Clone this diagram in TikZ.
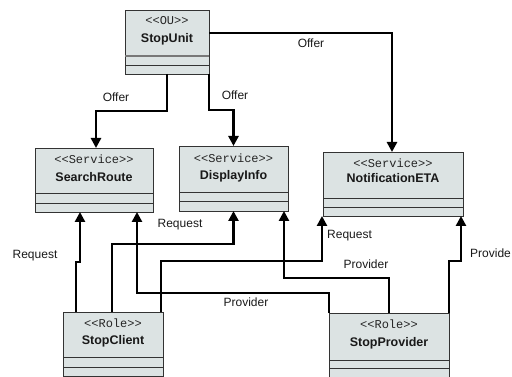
\documentclass[tikz,border=0pt]{standalone}
\usepackage{fontspec}
\setmainfont{Liberation Sans}
\newfontfamily\monof{Liberation Mono}
\usetikzlibrary{arrows.meta}
\definecolor{boxfill}{RGB}{220,227,227}
\definecolor{sepgray}{RGB}{120,120,120}
\tikzset{
  umlbox/.style={draw=black!80, fill=boxfill, line width=0.8pt, inner sep=0pt, outer sep=0pt},
  stereo/.style={font=\monof\fontsize{12}{14}\selectfont, inner sep=0pt, text=black!85},
  cname/.style={font=\bfseries\fontsize{12.5}{14}\selectfont, inner sep=0pt, text=black!90},
  lbl/.style={font=\fontsize{12}{14}\selectfont, inner sep=0pt, text=black!90},
  conn/.style={line width=2.8pt, -{Triangle[width=10pt,length=10pt]}, line join=miter},
  sepA/.style={draw=sepgray, line width=1.3pt},
  sepB/.style={draw=black!80, line width=0.8pt}
}
\begin{document}
\begin{tikzpicture}[x=1pt,y=-1pt]
\useasboundingbox (0,0) rectangle (512,377);
% boxes
\node[umlbox, minimum width=84pt, minimum height=64pt] (su) at (167,42) {};
\node[umlbox, minimum width=118pt, minimum height=64pt] (sr) at (94,180) {};
\node[umlbox, minimum width=109pt, minimum height=65pt] (di) at (233.5,178.5) {};
\node[umlbox, minimum width=140pt, minimum height=64pt] (ne) at (393,184) {};
\node[umlbox, minimum width=100pt, minimum height=64pt] (sc) at (113,344) {};
\node[umlbox, minimum width=120pt, minimum height=64pt] (sp) at (389,345) {};
% separators
\draw[sepA] (su.west |- 0,56) -- (su.east |- 0,56);
\draw[sepB] (su.west |- 0,65) -- (su.east |- 0,65);
\draw[sepB] (sr.west |- 0,193) -- (sr.east |- 0,193);
\draw[sepB] (sr.west |- 0,203) -- (sr.east |- 0,203);
\draw[sepB] (di.west |- 0,192) -- (di.east |- 0,192);
\draw[sepB] (di.west |- 0,201) -- (di.east |- 0,201);
\draw[sepB] (ne.west |- 0,198) -- (ne.east |- 0,198);
\draw[sepB] (ne.west |- 0,207) -- (ne.east |- 0,207);
\draw[sepB] (sc.west |- 0,357) -- (sc.east |- 0,357);
\draw[sepB] (sc.west |- 0,367) -- (sc.east |- 0,367);
\draw[sepB] (sp.west |- 0,360) -- (sp.east |- 0,360);
\draw[sepB] (sp.west |- 0,368) -- (sp.east |- 0,368);
% texts
\node[stereo] (suS) at (167,21) {<<OU>>};
\node[cname] (suN) at (167,39) {StopUnit};
\node[stereo] (srS) at (94,159) {<<Service>>};
\node[cname] (srN) at (94,177) {SearchRoute};
\node[stereo] (diS) at (233.5,158) {<<Service>>};
\node[cname] (diN) at (233.5,176) {DisplayInfo};
\node[stereo] (neS) at (393,163) {<<Service>>};
\node[cname] (neN) at (393,178) {NotificationETA};
\node[stereo] (scS) at (113,323) {<<Role>>};
\node[cname] (scN) at (113,341) {StopClient};
\node[stereo] (spS) at (389,324) {<<Role>>};
\node[cname] (spN) at (389,343) {StopProvider};
% connectors
\draw[conn] ([xshift=42pt]su.south west) -- ++(0,37) -| ([xshift=61pt]sr.north west);
\draw[conn] (su.south east) -- ++(0,36) -| (di.north);
\draw[conn] ([yshift=9pt]su.east) -| ([xshift=-1pt]ne.north);
\draw[conn] ([xshift=13pt]sc.north west) -- ++(0,-50) -- ++(4,0) -- ([xshift=45pt]sr.south west);
\draw[conn] ([xshift=49pt]sc.north west) -- ++(0,-68) -| (di.south);
\draw[conn] ([xshift=-2pt]sc.north east) -- ++(0,-51) -| ([xshift=-1pt]ne.south west);
\draw[conn] (sp.north west) -- ++(0,-20) -| ([xshift=102pt]sr.south west);
\draw[conn] (sp.north) -- ++(0,-35) -| ([xshift=-4pt]di.south east);
\draw[conn] (sp.north east) -- ++(0,-52) -| ([xshift=-2pt]ne.south east);
% labels
\node[lbl] (l1) at (116,97) {Offer};
\node[lbl] (l2) at (235,95) {Offer};
\node[lbl] (l3) at (311,43) {Offer};
\node[lbl] (l4) at (35,256) {Request};
\node[lbl] (l5) at (180,225) {Request};
\node[lbl, anchor=west] (l6) at (327,236) {Request};
\node[lbl] (l7) at (366,264) {Provider};
\node[lbl] (l8) at (246,302) {Provider};
\node[lbl, anchor=west] (l9) at (470,253) {Provide};
\end{tikzpicture}
\end{document}
